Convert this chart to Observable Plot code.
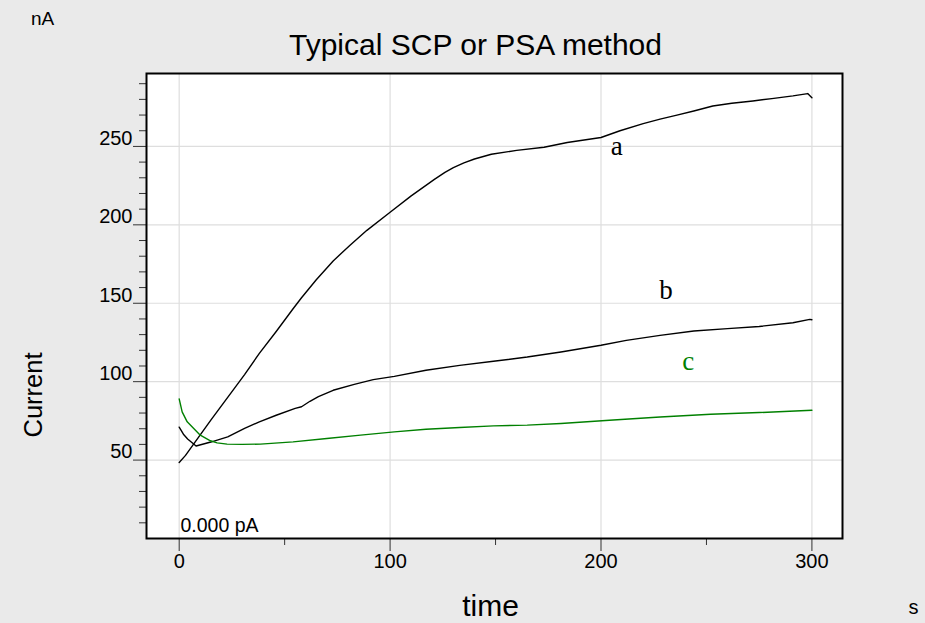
<!DOCTYPE html>
<html><head><meta charset="utf-8">
<script src="https://cdn.jsdelivr.net/npm/d3@7"></script>
<script src="https://cdn.jsdelivr.net/npm/@observablehq/plot@0.6"></script>
<style>
html,body{margin:0;padding:0;background:#eaeaea;overflow:hidden;}
</style></head><body><div id="chart"></div>
<script>
// Curve a
const timeA = [0, 3, 7, 15, 23, 31, 38, 46, 54, 58, 65, 73, 81, 89, 100, 110, 121, 126, 130, 135, 140, 148, 160, 173, 184, 200, 209, 220, 228, 236, 244, 253, 262, 272, 281, 291, 298, 300];
const currA = [48.5, 53, 60.5, 75.5, 90, 104.5, 118, 132, 146.5, 153.5, 165, 177, 187, 196.5, 208, 218.5, 229, 233.5, 236.5, 239.5, 242, 245, 247.5, 249.5, 252.5, 255.7, 260, 264.5, 267.4, 270, 272.6, 275.8, 277.5, 279, 280.5, 282.2, 283.7, 281];
// Curve b
const timeB = [0, 2, 4, 8, 15, 23, 31, 38, 46, 55, 58, 62, 66, 73, 83, 92, 102, 117, 133, 149, 165, 181, 200, 212, 228, 244, 260, 275, 291, 299, 300];
const currB = [71, 66.5, 63.5, 59, 61.5, 64.8, 70.2, 74.4, 78.6, 83, 84, 87.5, 90.5, 94.5, 98.3, 101.3, 103.4, 107.3, 110.4, 113, 115.7, 118.9, 123.2, 126.3, 129.5, 132.3, 133.8, 135.2, 137.6, 139.7, 139.5];
// Curve c
const timeC = [0, 1.4, 3.8, 6.9, 10, 14.8, 18, 22.7, 30, 38.5, 54, 70, 86, 102, 117, 133, 149, 165, 181, 204, 228, 252, 275, 300];
const currC = [89, 80.7, 74.4, 70.2, 65.9, 62.3, 61, 60.2, 60, 60.2, 61.6, 63.8, 65.9, 68, 69.7, 70.8, 71.8, 72.3, 73.3, 75.4, 77.5, 79.2, 80.3, 81.8];

const curveNames = ["a", "b", "c"];
const curveColors = ["black", "black", "#008000"];
const labelX = [207.5, 230.8, 241.4];
const labelY = [244.7, 152.9, 107.3];

const yMajor = [50, 100, 150, 200, 250];
const yMinor = [10, 20, 30, 40, 60, 70, 80, 90, 110, 120, 130, 140, 160, 170, 180, 190, 210, 220, 230, 240, 260, 270, 280, 290];
const xMajor = [0, 100, 200, 300];
const xMinor = [50, 150, 250];

const titleText = "Typical SCP or PSA method";
const xTitle = "time";
const yTitle = "Current";
const xUnit = "s";
const yUnit = "nA";
const offsetText = "0.000 pA";

const series = [[timeA, currA], [timeB, currB], [timeC, currC]];
const rows = series.flatMap(([t, c], i) => t.map((x, j) => ({x, y: c[j], name: curveNames[i]})));
const labels = curveNames.map((n, i) => ({name: n, x: labelX[i], y: labelY[i], color: curveColors[i]}));

const sans = "'Liberation Sans', Arial, sans-serif";
const mid = {textAnchor: "middle", lineAnchor: "middle"};
const chart = Plot.plot({
  width: 925, height: 623,
  marginLeft: 146, marginRight: 83, marginTop: 73, marginBottom: 85,
  style: {background: "#eaeaea", fontFamily: sans, color: "black", overflow: "visible"},
  x: {domain: [-15.5, 314.5]},
  y: {domain: [0, 296.5]},
  color: {domain: curveNames, range: curveColors},
  marks: [
    Plot.frame({fill: "white", stroke: "none"}),
    Plot.gridY(yMajor, {stroke: "#dedede", strokeOpacity: 1, strokeWidth: 1.2}),
    Plot.gridX(xMajor, {stroke: "#dedede", strokeOpacity: 1, strokeWidth: 1.2}),
    Plot.axisY(yMinor, {tickSize: 7, fill: "none", label: null, stroke: "#333"}),
    Plot.axisY(yMajor, {tickSize: 13, fill: "none", label: null, stroke: "#333"}),
    Plot.axisY(yMajor, {tickSize: 0, tickPadding: 14, dy: -8, fontSize: 20, label: null}),
    Plot.axisX(xMinor, {tickSize: 7, fill: "none", label: null, stroke: "#333"}),
    Plot.axisX(xMajor, {tickSize: 13, fill: "none", label: null, stroke: "#333"}),
    Plot.axisX(xMajor, {tickSize: 0, tickPadding: 15, fontSize: 20, label: null}),
    Plot.line(rows, {x: "x", y: "y", z: "name", stroke: "name", strokeWidth: 1.4}),
    Plot.text(labels, {x: "x", y: "y", text: "name", fill: "color", fontSize: 27, fontFamily: "'Liberation Serif', 'Times New Roman', serif", lineAnchor: "bottom"}),
    Plot.frame({stroke: "black", strokeWidth: 2}),
    Plot.text([titleText], {text: d => d, frameAnchor: "top", dx: -19, dy: -28, fontSize: 30, ...mid}),
    Plot.text([yUnit], {text: d => d, frameAnchor: "top-left", dx: -104, dy: -55, fontSize: 19, ...mid}),
    Plot.text([yTitle], {text: d => d, frameAnchor: "left", dx: -113, dy: 89, rotate: -90, fontSize: 25.5, ...mid}),
    Plot.text([xTitle], {text: d => d, frameAnchor: "bottom", dx: -4, dy: 68, fontSize: 30, ...mid}),
    Plot.text([xUnit], {text: d => d, frameAnchor: "bottom-right", dx: 71, dy: 69, fontSize: 20, ...mid}),
    Plot.text([offsetText], {text: d => d, frameAnchor: "bottom-left", dx: 34, dy: -13, textAnchor: "start", lineAnchor: "middle", fontSize: 19.5})
  ]
});
document.getElementById("chart").appendChild(chart);
</script>
</body></html>
